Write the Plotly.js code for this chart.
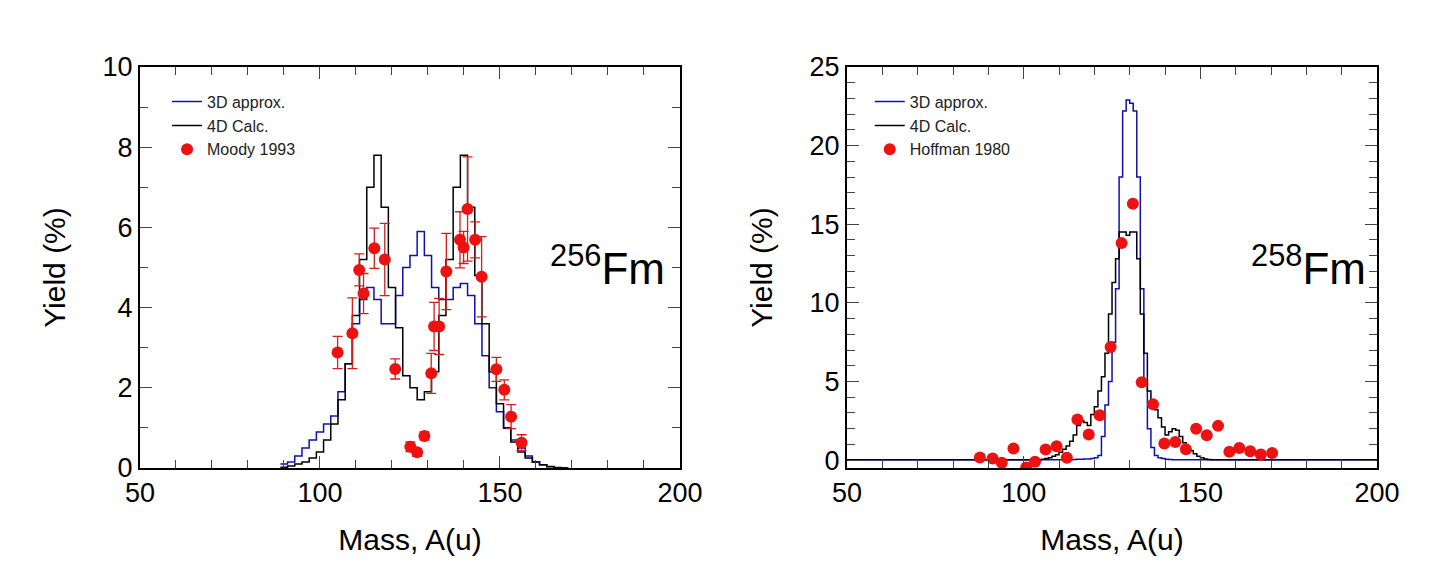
<!DOCTYPE html>
<html>
<head>
<meta charset="utf-8">
<script src="https://cdn.plot.ly/plotly-3.0.1.min.js"></script>
<style>body{margin:0;background:#fff}#chart{width:1440px;height:584px}</style>
</head>
<body>
<div id="chart"></div>
<script>
// 256Fm, histogram bins of 2 u (left edges)
var fm256_edges = [89,91,93,95,97,99,101,103,105,107,109,111,113,115,117,119,121,123,125,127,129,131,133,135,137,139,141,143,145,147,149,151,153,155,157,159,161,163,165,167]
var fm256_4d = [0.02,0.05,0.1,0.15,0.25,0.4,0.7,1.1,1.7,2.6,3.8,5.2,7.0,7.8,6.5,4.5,3.5,2.3,2.0,1.7,1.9,2.4,3.8,5.2,7.0,7.8,6.5,4.8,3.6,2.4,1.6,1.0,0.65,0.4,0.25,0.15,0.08,0.04,0.01,0]
var fm256_3d = [0.1,0.15,0.3,0.5,0.7,0.9,1.1,1.3,1.9,2.6,3.6,4.2,4.5,4.2,3.6,3.6,4.3,5.0,5.3,5.9,5.3,4.5,4.2,4.2,4.5,4.6,4.3,3.6,2.8,2.0,1.4,1.0,0.7,0.5,0.3,0.15,0.08,0.03,0,0]
var moody_mass = [104.9,109.0,110.9,112.1,115.1,118.0,120.9,125.1,127.0,129.0,130.9,131.7,133.1,135.1,138.9,139.9,141.0,143.1,144.9,149.0,151.2,153.1,156.0]
var moody_yield = [2.88,3.36,4.94,4.35,5.48,5.2,2.47,0.53,0.39,0.8,2.36,3.53,3.53,4.9,5.69,5.5,6.46,5.69,4.77,2.46,1.95,1.28,0.63]
var moody_err = [0.4,0.88,0.4,0.5,0.5,0.9,0.25,0.12,0.1,0.1,0.5,0.6,0.7,0.95,0.7,0.4,1.3,0.45,1.0,0.3,0.25,0.3,0.2]

// 258Fm, histogram bins of 1 u (left edges)
var fm258_edges = [50,105,106,107,108,109,110,111,112,113,114,115,116,117,118,119,120,121,122,123,124,125,126,127,128,129,130,131,132,133,134,135,136,137,138,139,140,141,142,143,144,145,146,147,148,149,150,151,152,153,154,200]
var fm258_4d = [0.02,0.05,0.1,0.15,0.25,0.35,0.5,0.7,0.9,1.2,1.6,2.2,2.5,2.4,2.2,2.9,3.4,4.4,5.3,6.8,9.3,11.3,12.8,14.5,14.5,14.3,14.5,14.5,12.8,9.3,6.8,4.4,3.8,3.2,2.7,2.1,1.6,1.8,2.0,1.9,1.5,1.1,0.8,0.6,0.4,0.25,0.15,0.08,0.04,0.02,0.02,0.02]
var fm258_3d = [0.02,0.02,0.02,0.02,0.02,0.02,0.02,0.02,0.03,0.03,0.04,0.05,0.06,0.07,0.08,0.1,0.15,0.3,1.5,3.5,5.0,7.5,10.9,18.0,22.2,22.9,22.7,22.2,18.0,10.9,5.0,2.0,0.8,0.3,0.15,0.1,0.06,0.04,0.03,0.02,0.02,0.02,0.02,0.02,0.02,0.02,0.02,0.02,0.02,0.02,0.02,0.02]
var hoff_mass = [87.6,91.2,93.8,97.1,100.7,103.2,106.2,109.3,112.2,115.2,118.4,121.5,124.6,127.7,130.9,133.4,136.6,139.8,142.9,145.9,148.8,151.8,155.0,158.2,161.0,164.1,167.1,170.3]
var hoff_yield = [0.17,0.1,-0.17,0.74,-0.47,-0.1,0.68,0.89,0.15,2.59,1.63,2.86,7.2,13.8,16.3,4.96,3.56,1.06,1.16,0.7,2.0,1.59,2.18,0.53,0.78,0.57,0.36,0.45]

function stepY(v) { return v.concat([v[v.length - 1]]) }
function stepX(e, w) { return e.concat([e[e.length - 1] + w]) }

var blue = '#1010b0', red = '#ee1111'
var data = [
  {x: stepX(fm256_edges, 2), y: stepY(fm256_3d), mode: 'lines', line: {shape: 'hv', color: blue, width: 1.5}, name: '3D approx.', legend: 'legend'},
  {x: stepX(fm256_edges, 2), y: stepY(fm256_4d), mode: 'lines', line: {shape: 'hv', color: '#000', width: 1.5}, name: '4D Calc.', legend: 'legend'},
  {x: moody_mass, y: moody_yield, mode: 'markers', marker: {color: red, size: 12},
   error_y: {type: 'data', array: moody_err, color: '#d02020', thickness: 1.3, width: 5}, name: 'Moody 1993', legend: 'legend'},
  {x: fm258_edges, y: fm258_3d, xaxis: 'x2', yaxis: 'y2', mode: 'lines', line: {shape: 'hv', color: blue, width: 1.5}, name: '3D approx.', legend: 'legend2'},
  {x: fm258_edges, y: fm258_4d, xaxis: 'x2', yaxis: 'y2', mode: 'lines', line: {shape: 'hv', color: '#000', width: 1.5}, name: '4D Calc.', legend: 'legend2'},
  {x: hoff_mass, y: hoff_yield, xaxis: 'x2', yaxis: 'y2', mode: 'markers', marker: {color: red, size: 12}, name: 'Hoffman 1980', legend: 'legend2'}
]

var font = {family: 'Liberation Sans, Arial, sans-serif', color: '#000'}
function xax(dom, anchor) {
  return {domain: dom, anchor: anchor, range: [50, 200], tickvals: [50, 100, 150, 200], ticks: 'inside', ticklen: 12,
    showline: true, mirror: 'allticks', linecolor: '#000', linewidth: 2, showgrid: false, zeroline: false,
    minor: {dtick: 10, ticklen: 8, ticks: 'inside', showgrid: false},
    tickfont: {size: 27}, title: {text: 'Mass, A(u)', font: {size: 30}, standoff: 22}}
}
function yax(dom, anchor, range, dtick, mdt) {
  return {domain: dom, anchor: anchor, range: range, dtick: dtick, tick0: 0, ticks: 'inside', ticklen: 12,
    showline: true, mirror: 'allticks', linecolor: '#000', linewidth: 2, showgrid: false, zeroline: false,
    minor: {dtick: mdt, ticklen: 8, ticks: 'inside', showgrid: false},
    tickfont: {size: 27}, title: {text: 'Yield (%)', font: {size: 30}, standoff: 28}}
}
var ydom = [0.1986, 0.8853]
var legfont = {size: 16, color: '#222', family: 'Liberation Sans, Arial, sans-serif'}
var layout = {
  width: 1440, height: 584, margin: {l: 0, r: 0, t: 0, b: 0},
  paper_bgcolor: '#fff', plot_bgcolor: '#fff', font: font,
  xaxis: xax([0.0972, 0.4722], 'y'),
  yaxis: yax(ydom, 'x', [0, 10], 2, 1),
  xaxis2: xax([0.5882, 0.9563], 'y2'),
  yaxis2: yax(ydom, 'x2', [-0.5, 25], 5, 1),
  legend: {x: 0.116, y: 0.855, xanchor: 'left', yanchor: 'top', font: legfont, bgcolor: 'rgba(0,0,0,0)', tracegroupgap: 2},
  legend2: {x: 0.604, y: 0.855, xanchor: 'left', yanchor: 'top', font: legfont, bgcolor: 'rgba(0,0,0,0)', tracegroupgap: 2},
  annotations: [
    {text: '<sup>256</sup>Fm', x: 0.463, y: 0.545, xref: 'paper', yref: 'paper', xanchor: 'right', showarrow: false, font: {size: 44, color: '#000'}},
    {text: '<sup>258</sup>Fm', x: 0.95, y: 0.545, xref: 'paper', yref: 'paper', xanchor: 'right', showarrow: false, font: {size: 44, color: '#000'}}
  ]
}
Plotly.newPlot('chart', data, layout, {staticPlot: true})
</script>
</body>
</html>
